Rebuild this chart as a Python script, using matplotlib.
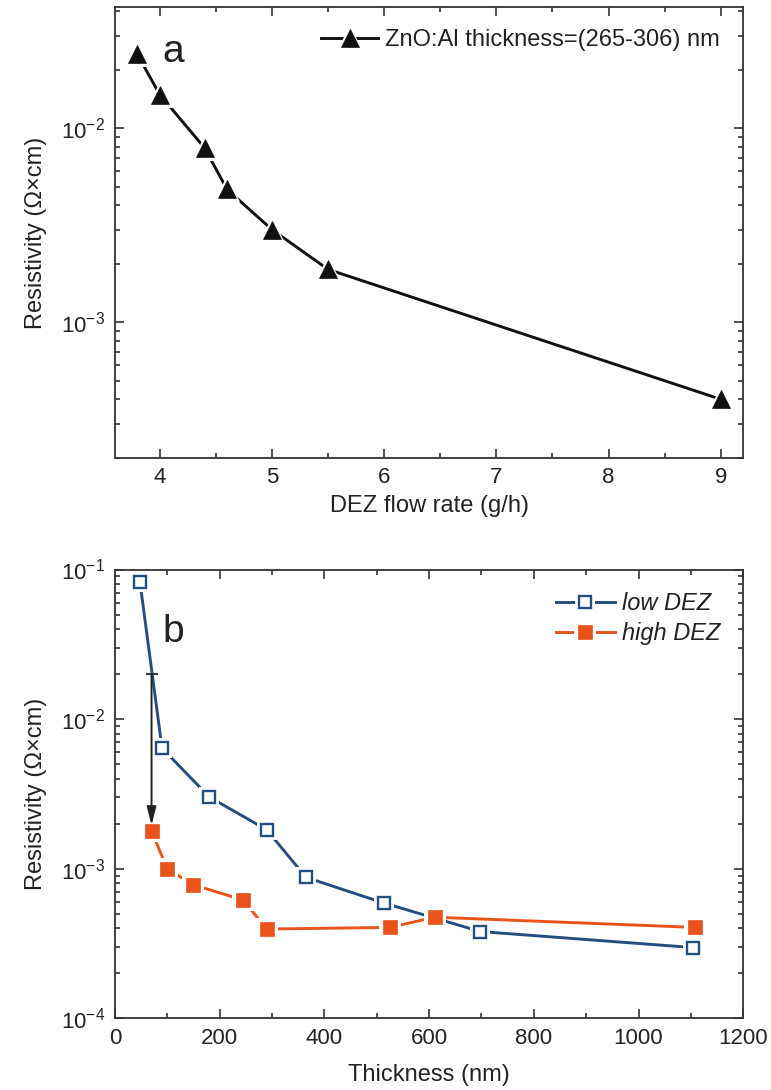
import matplotlib
matplotlib.use("Agg")
import matplotlib.pyplot as plt
from matplotlib.ticker import LogLocator, MultipleLocator, NullFormatter
from matplotlib.legend_handler import HandlerTuple

plt.rcParams['font.family'] = ['Liberation Sans', 'DejaVu Sans']
plt.rcParams['text.color'] = '#222222'
plt.rcParams['axes.labelcolor'] = '#222222'

# panel a: resistivity vs DEZ flow rate
dez_flow = [3.8, 4.0, 4.4, 4.6, 5.0, 5.5, 9.0]
rho_flow = [2.4e-2, 1.49e-2, 7.9e-3, 4.83e-3, 3.0e-3, 1.87e-3, 4.0e-4]
label_a = 'ZnO:Al thickness=(265-306) nm'

# panel b: resistivity vs thickness
thick_low = [48, 90, 180, 290, 365, 514, 698, 1104]
rho_low = [8.2e-2, 6.4e-3, 3.02e-3, 1.82e-3, 8.75e-4, 5.89e-4, 3.8e-4, 2.97e-4]
thick_high = [70, 100, 150, 245, 290, 525, 611, 1108]
rho_high = [1.78e-3, 1.0e-3, 7.8e-4, 6.17e-4, 3.95e-4, 4.05e-4, 4.74e-4, 4.05e-4]
arrow_x = 70
arrow_from = 2.0e-2
arrow_to = 1.95e-3

blue = '#254E80'
orange = '#E8541C'
dark = '#222222'

fig = plt.figure(figsize=(7.71, 10.9), dpi=100)
ax1 = fig.add_axes([0.149, 0.5801, 0.815, 0.4132])
ax2 = fig.add_axes([0.149, 0.0658, 0.815, 0.4117])


def style_axes(ax):
    for s in ax.spines.values():
        s.set_linewidth(1.3)
        s.set_color('#333333')
    ax.tick_params(which='both', direction='in', top=True, right=True,
                   colors='#333333', labelcolor=dark, labelsize=16, width=1.2)
    ax.tick_params(which='major', length=6.5, pad=7)
    ax.tick_params(which='minor', length=3.5)


def marked_line(ax, x, y, color, marker, ms, face, mew):
    ln, = ax.plot(x, y, '-', color=color, lw=2.1)
    halo, = ax.plot(x, y, ls='none', marker=marker, ms=ms + 6, mfc='white',
                    mec='white', mew=0)
    mk, = ax.plot(x, y, ls='none', marker=marker, ms=ms, mfc=face,
                  mec=color, mew=mew)
    return (ln, halo, mk)


# ---- panel a ----
h_a = marked_line(ax1, dez_flow, rho_flow, '#111111', '^', 12.5, '#111111', 0.5)
ax1.set_yscale('log')
ax1.set_xlim(3.6, 9.2)
ax1.set_ylim(2e-4, 4.2e-2)
ax1.xaxis.set_major_locator(MultipleLocator(1))
ax1.xaxis.set_minor_locator(MultipleLocator(0.5))
ax1.yaxis.set_minor_locator(LogLocator(base=10, subs=range(2, 10)))
ax1.yaxis.set_minor_formatter(NullFormatter())
style_axes(ax1)
ax1.set_xlabel('DEZ flow rate (g/h)', fontsize=17, labelpad=5)
ax1.set_ylabel('Resistivity (\u03a9\u00d7cm)', fontsize=17, labelpad=10)
ax1.text(0.075, 0.94, 'a', transform=ax1.transAxes, fontsize=28, va='top', ha='left')
ax1.legend([h_a], [label_a], handler_map={tuple: HandlerTuple(ndivide=1)},
           loc='upper right', bbox_to_anchor=(0.963, 0.952), frameon=False,
           fontsize=17, handlelength=2.4, handletextpad=0.3, borderpad=0,
           borderaxespad=0, numpoints=1)

# ---- panel b ----
ax2.annotate('', xy=(arrow_x, arrow_to), xytext=(arrow_x, arrow_from),
             arrowprops=dict(arrowstyle='-|>,head_length=1.1,head_width=0.28',
                             color=dark, lw=1.4, shrinkA=0, shrinkB=0))
ax2.plot([arrow_x], [arrow_from], marker='_', ms=9, mew=1.3, color=dark)
h_low = marked_line(ax2, thick_low, rho_low, blue, 's', 8.5, 'white', 1.7)
h_high = marked_line(ax2, thick_high, rho_high, orange, 's', 9.5, orange, 0.5)
ax2.set_yscale('log')
ax2.set_xlim(0, 1200)
ax2.set_ylim(1e-4, 1e-1)
ax2.xaxis.set_major_locator(MultipleLocator(200))
ax2.xaxis.set_minor_locator(MultipleLocator(100))
ax2.yaxis.set_minor_locator(LogLocator(base=10, subs=range(2, 10)))
ax2.yaxis.set_minor_formatter(NullFormatter())
style_axes(ax2)
ax2.set_xlabel('Thickness (nm)', fontsize=17, labelpad=11)
ax2.set_ylabel('Resistivity (\u03a9\u00d7cm)', fontsize=17, labelpad=10)
ax2.text(0.075, 0.9, 'b', transform=ax2.transAxes, fontsize=28, va='top', ha='left')
ax2.legend([h_low, h_high], ['low DEZ', 'high DEZ'],
           handler_map={tuple: HandlerTuple(ndivide=1)},
           loc='upper right', bbox_to_anchor=(0.963, 0.949), frameon=False,
           prop={'size': 17, 'style': 'italic'}, handlelength=2.5,
           handletextpad=0.3, labelspacing=0.3, borderpad=0,
           borderaxespad=0, numpoints=1)

fig.savefig('out.png', dpi=100)
